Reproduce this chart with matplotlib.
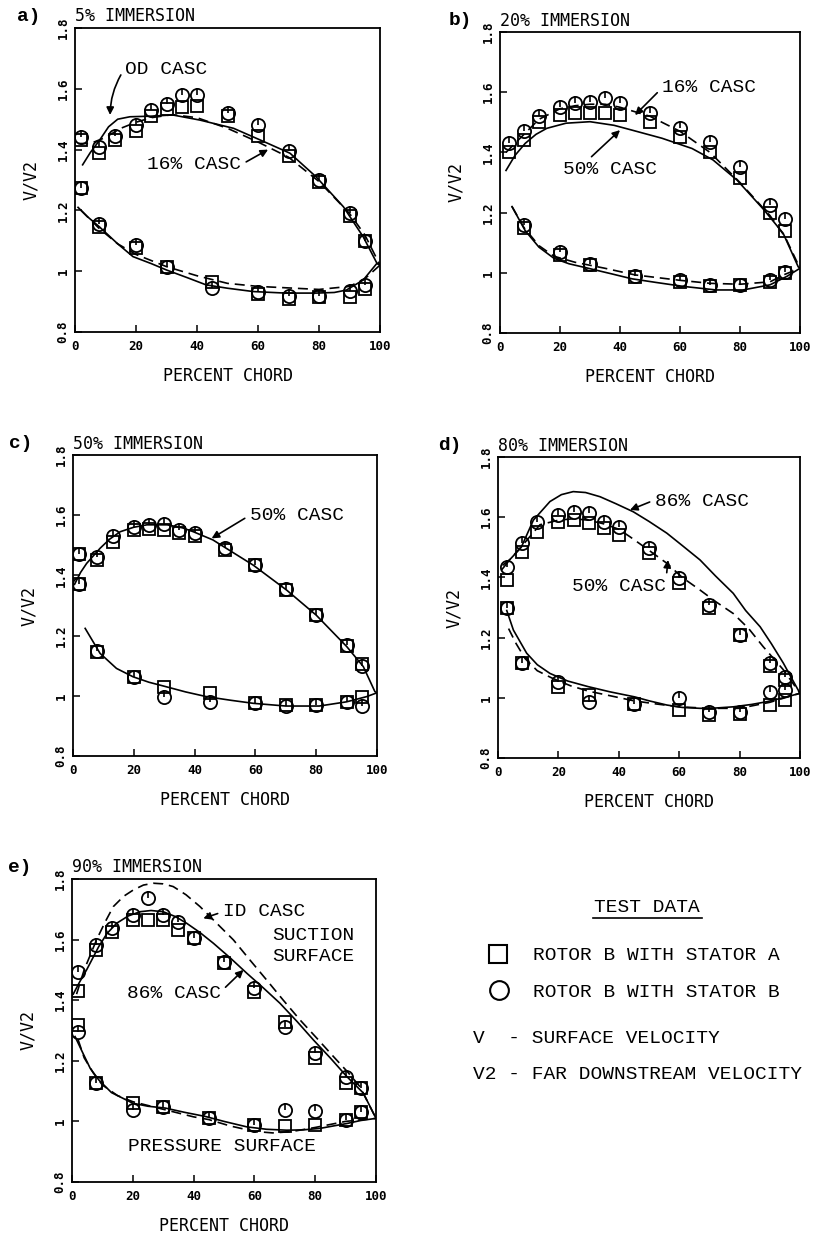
import matplotlib
matplotlib.use("Agg")
import matplotlib.pyplot as plt
from matplotlib.path import Path

W, H = 813, 1237
MONO = "Liberation Mono"
PLOT = "DejaVu Sans Mono"

# ---- panel a) 5% immersion ----
a_xs = [2, 8, 13, 20, 25, 30, 35, 40, 50, 60, 70, 80, 90, 95]
a_sq_s = [1.43, 1.39, 1.43, 1.46, 1.51, 1.535, 1.54, 1.545, 1.51, 1.445, 1.38, 1.295, 1.18, 1.10]
a_ci_s = [1.44, 1.41, 1.445, 1.48, 1.53, 1.55, 1.58, 1.58, 1.52, 1.48, 1.395, 1.30, 1.19, 1.10]
a_xp = [2, 8, 20, 30, 45, 60, 70, 80, 90, 95]
a_sq_p = [1.275, 1.145, 1.075, 1.015, 0.965, 0.925, 0.91, 0.915, 0.915, 0.94]
a_ci_p = [1.275, 1.155, 1.085, 1.015, 0.945, 0.93, 0.92, 0.92, 0.935, 0.955]
a_solid_s_x = [2.5, 5, 8, 11, 14, 18, 25, 32, 41, 52, 62, 70.5, 79, 88, 94.5, 99, 100]
a_solid_s_y = [1.35, 1.39, 1.43, 1.475, 1.50, 1.508, 1.51, 1.514, 1.497, 1.47, 1.426, 1.388, 1.311, 1.212, 1.113, 1.026, 1.02]
a_dash_s_x = [1, 5, 10, 15, 20, 25, 32, 40, 50, 60, 65, 70, 80, 90, 95, 100]
a_dash_s_y = [1.42, 1.42, 1.44, 1.47, 1.49, 1.505, 1.515, 1.505, 1.47, 1.425, 1.40, 1.375, 1.295, 1.19, 1.12, 1.02]
a_solid_p_x = [1, 4, 8, 14, 19, 25, 30, 37, 43, 50, 58.5, 69, 79, 85, 89, 94.5, 99, 100]
a_solid_p_y = [1.21, 1.18, 1.146, 1.09, 1.048, 1.025, 1.004, 0.978, 0.955, 0.944, 0.933, 0.928, 0.928, 0.93, 0.938, 0.971, 1.026, 1.02]
a_dash_p_x = [2, 5, 8, 14, 20, 30, 40, 50, 60, 70, 80, 90, 95, 100]
a_dash_p_y = [1.20, 1.17, 1.14, 1.09, 1.055, 1.015, 0.985, 0.96, 0.95, 0.945, 0.94, 0.95, 0.975, 1.02]

# ---- panel b) 20% immersion ----
b_xs = [3, 8, 13, 20, 25, 30, 35, 40, 50, 60, 70, 80, 90, 95]
b_sq_s = [1.40, 1.44, 1.50, 1.525, 1.53, 1.53, 1.53, 1.525, 1.50, 1.45, 1.40, 1.315, 1.20, 1.14]
b_ci_s = [1.43, 1.47, 1.52, 1.55, 1.563, 1.568, 1.58, 1.563, 1.53, 1.48, 1.435, 1.35, 1.225, 1.18]
b_xp = [8, 20, 30, 45, 60, 70, 80, 90, 95]
b_sq_p = [1.15, 1.06, 1.025, 0.987, 0.97, 0.955, 0.96, 0.97, 0.998]
b_ci_p = [1.16, 1.07, 1.03, 0.99, 0.975, 0.96, 0.96, 0.975, 1.003]
b_solid_s_x = [2, 5, 8.4, 12, 15.6, 22, 30, 38, 44, 54, 64, 71, 79, 88, 94.4, 99.4, 100]
b_solid_s_y = [1.34, 1.39, 1.43, 1.46, 1.48, 1.497, 1.502, 1.49, 1.474, 1.447, 1.413, 1.375, 1.308, 1.209, 1.131, 1.02, 1.015]
b_dash_s_x = [2, 5, 8, 13, 20, 25, 30, 35, 40, 50, 60, 70, 80, 90, 95, 100]
b_dash_s_y = [1.40, 1.43, 1.46, 1.51, 1.545, 1.555, 1.56, 1.56, 1.55, 1.52, 1.47, 1.40, 1.30, 1.19, 1.12, 1.015]
b_solid_p_x = [4, 8.4, 13, 18, 23, 29, 37, 44, 52, 61, 72, 81, 90, 95.6, 100]
b_solid_p_y = [1.22, 1.14, 1.085, 1.048, 1.03, 1.016, 0.997, 0.98, 0.968, 0.955, 0.943, 0.943, 0.96, 0.988, 1.015]
b_dash_p_x = [4, 8, 13, 18, 25, 35, 45, 60, 70, 80, 90, 95, 100]
b_dash_p_y = [1.22, 1.15, 1.09, 1.055, 1.035, 1.015, 0.993, 0.975, 0.965, 0.962, 0.97, 0.995, 1.015]

# ---- panel c) 50% immersion ----
c_xs = [2, 8, 13, 20, 25, 30, 35, 40, 50, 60, 70, 80, 90, 95]
c_sq_s = [1.47, 1.45, 1.51, 1.55, 1.555, 1.55, 1.54, 1.53, 1.485, 1.435, 1.35, 1.27, 1.165, 1.105]
c_ci_s = [1.47, 1.46, 1.53, 1.56, 1.568, 1.57, 1.55, 1.54, 1.49, 1.435, 1.355, 1.27, 1.17, 1.10]
c_xp = [2, 8, 20, 30, 45, 60, 70, 80, 90, 95]
c_sq_p = [1.37, 1.145, 1.063, 1.03, 1.008, 0.975, 0.968, 0.968, 0.98, 0.997]
c_ci_p = [1.37, 1.15, 1.063, 0.997, 0.98, 0.975, 0.965, 0.968, 0.98, 0.965]
c_solid_s_x = [0.5, 2.5, 4.5, 8.9, 12, 15.5, 20, 24.3, 31, 36, 39.6, 46, 52, 59.3, 70.3, 80, 90, 95.5, 99.3, 100]
c_solid_s_y = [1.37, 1.41, 1.44, 1.49, 1.52, 1.545, 1.56, 1.568, 1.568, 1.558, 1.545, 1.518, 1.48, 1.434, 1.351, 1.268, 1.164, 1.097, 1.014, 1.01]
c_solid_p_x = [4, 8.9, 14.3, 19.8, 25, 30.7, 37, 44, 52, 59.3, 70, 81, 90, 96.5, 100]
c_solid_p_y = [1.224, 1.141, 1.091, 1.063, 1.045, 1.03, 1.013, 0.997, 0.985, 0.975, 0.966, 0.966, 0.98, 0.997, 1.01]

# ---- panel d) 80% immersion ----
d_xs = [3, 8, 13, 20, 25, 30, 35, 40, 50, 60, 70, 80, 90, 95]
d_sq_s = [1.39, 1.485, 1.55, 1.585, 1.59, 1.58, 1.563, 1.54, 1.48, 1.38, 1.297, 1.209, 1.104, 1.06]
d_ci_s = [1.435, 1.513, 1.585, 1.607, 1.618, 1.613, 1.585, 1.568, 1.497, 1.397, 1.308, 1.209, 1.115, 1.07]
d_xp = [3, 8, 20, 30, 45, 60, 70, 80, 90, 95]
d_sq_p = [1.297, 1.115, 1.036, 1.01, 0.98, 0.96, 0.943, 0.945, 0.976, 0.993]
d_ci_p = [1.297, 1.115, 1.053, 0.987, 0.98, 0.998, 0.954, 0.954, 1.02, 1.026]
d_solid_s_x = [1.2, 4, 7.7, 11.7, 17.2, 21, 24.9, 29, 33.8, 39, 44.8, 50, 55.9, 61, 66.9, 72, 77.9, 82, 86.8, 90.5, 94.5, 97.5, 100]
d_solid_s_y = [1.425, 1.46, 1.50, 1.59, 1.652, 1.675, 1.685, 1.682, 1.668, 1.645, 1.618, 1.586, 1.547, 1.506, 1.458, 1.405, 1.347, 1.29, 1.236, 1.18, 1.115, 1.06, 1.015]
d_dash_s_x = [1.5, 4, 8.4, 13.9, 20, 25, 30, 35, 40, 43.7, 50, 55.9, 61, 66.9, 72, 77.9, 83, 87.8, 94.5, 100]
d_dash_s_y = [1.44, 1.46, 1.51, 1.575, 1.59, 1.595, 1.59, 1.578, 1.56, 1.535, 1.49, 1.447, 1.40, 1.358, 1.32, 1.28, 1.23, 1.17, 1.093, 1.015]
d_solid_p_x = [2.9, 5.1, 9.5, 13, 17.2, 23, 29.9, 37, 45.3, 50, 55.9, 61, 66.9, 72, 77.9, 84, 89, 95.6, 100]
d_solid_p_y = [1.29, 1.225, 1.148, 1.11, 1.081, 1.056, 1.037, 1.02, 1.003, 0.99, 0.976, 0.968, 0.965, 0.966, 0.97, 0.978, 0.987, 1.003, 1.015]
d_dash_p_x = [3.5, 6, 9, 13, 18, 24, 30, 38, 45, 52, 60, 70, 80, 90, 95, 100]
d_dash_p_y = [1.23, 1.18, 1.13, 1.09, 1.065, 1.04, 1.022, 1.005, 0.99, 0.98, 0.97, 0.965, 0.965, 0.985, 1.0, 1.015]

# ---- panel e) 90% immersion ----
e_xs = [2, 8, 13, 20, 25, 30, 35, 40, 50, 60, 70, 80, 90, 95]
e_sq_s = [1.43, 1.566, 1.626, 1.665, 1.665, 1.665, 1.632, 1.604, 1.522, 1.428, 1.329, 1.208, 1.126, 1.109]
e_ci_s = [1.494, 1.582, 1.637, 1.681, 1.736, 1.681, 1.659, 1.604, 1.525, 1.439, 1.313, 1.225, 1.148, 1.11]
e_xp = [2, 8, 20, 30, 45, 60, 70, 80, 90, 95]
e_sq_p = [1.318, 1.126, 1.06, 1.049, 1.01, 0.988, 0.985, 0.988, 1.004, 1.032]
e_ci_p = [1.296, 1.126, 1.038, 1.049, 1.01, 0.988, 1.038, 1.033, 1.004, 1.03]
e_solid_s_x = [0.4, 2.5, 4.8, 8.8, 11.5, 14.7, 18.5, 22.4, 26, 30, 34, 37.7, 42, 46.5, 52, 57.5, 63, 68.4, 74, 79.4, 85, 90.4, 95.8, 99.7, 100]
e_solid_s_y = [1.42, 1.46, 1.50, 1.577, 1.62, 1.654, 1.678, 1.692, 1.696, 1.692, 1.676, 1.654, 1.624, 1.588, 1.54, 1.489, 1.44, 1.39, 1.33, 1.269, 1.209, 1.148, 1.094, 1.016, 1.01]
e_dash_s_x = [1.5, 4, 8.1, 11, 13.6, 17, 20.2, 23.5, 26.8, 30, 33.3, 37.5, 42.1, 47.5, 53.1, 58.5, 64, 69.5, 75, 80.5, 86, 90.5, 94.7, 100]
e_dash_s_y = [1.42, 1.50, 1.60, 1.66, 1.709, 1.743, 1.764, 1.78, 1.786, 1.784, 1.775, 1.748, 1.709, 1.655, 1.599, 1.533, 1.467, 1.40, 1.335, 1.275, 1.214, 1.165, 1.115, 1.01]
e_solid_p_x = [1, 3.6, 6, 8.8, 13, 20, 25, 30.7, 37, 44, 50, 57.5, 64, 70.6, 76, 81.6, 86, 90.4, 95, 100]
e_solid_p_y = [1.28, 1.225, 1.175, 1.137, 1.095, 1.06, 1.05, 1.044, 1.03, 1.016, 1.0, 0.982, 0.974, 0.971, 0.972, 0.977, 0.985, 0.993, 1.003, 1.01]
e_dash_p_x = [2, 4, 7, 10, 15, 20, 30, 40, 45, 52, 60, 66, 72, 80, 90, 95, 100]
e_dash_p_y = [1.27, 1.21, 1.16, 1.12, 1.085, 1.065, 1.04, 1.015, 1.006, 0.985, 0.967, 0.962, 0.966, 0.98, 1.0, 1.005, 1.01]

x_ticks = [0, 20, 40, 60, 80, 100]
y_ticks = [0.8, 1.0, 1.2, 1.4, 1.6, 1.8]
y_tick_labels = ["0.8", "1", "1.2", "1.4", "1.6", "1.8"]

fig = plt.figure(figsize=(W / 100, H / 100), dpi=100)

def add_ax(l, t, r, b):
    return fig.add_axes([l / W, 1 - b / H, (r - l) / W, (b - t) / H])

# little tick from centre to top, as the plotter drew inside each symbol
inner = Path([(0, 0), (0, 1)], [Path.MOVETO, Path.LINETO])

def panel(ax, letter, letter_px, title, xs, sq_s, ci_s, xp, sq_p, ci_p, solid, dashed):
    for x, y in solid:
        ax.plot(x, y, color="k", lw=1.2)
    for x, y in dashed:
        ax.plot(x, y, color="k", lw=1.2, ls=(0, (6, 3.5)))
    for x, sq, ci in [(xs, sq_s, ci_s), (xp, sq_p, ci_p)]:
        ax.plot(x, sq, ls="none", marker="s", ms=9, mfc="none", mec="k", mew=1.3)
        ax.plot(x, ci, ls="none", marker="o", ms=9.5, mfc="none", mec="k", mew=1.3)
        ax.plot(x, ci, ls="none", marker=inner, ms=9.5, mec="k", mew=1.2)
    ax.set_xlim(0, 100); ax.set_ylim(0.8, 1.8)
    ax.set_xticks(x_ticks, [str(t) for t in x_ticks], fontfamily=PLOT, fontweight="bold", fontsize=9)
    ax.set_yticks(y_ticks, y_tick_labels, fontfamily=PLOT, fontweight="bold", fontsize=9,
                  rotation=90, va="center")
    ax.tick_params(direction="in", length=5, width=1.1, top=False, right=False)
    ax.tick_params(axis="x", pad=6); ax.tick_params(axis="y", pad=4)
    for s in ax.spines.values():
        s.set_linewidth(1.3)
    w = ax.get_position().width * W
    ax.text(0.5, -0.145, "PERCENT CHORD", transform=ax.transAxes, ha="center", va="center",
            fontfamily=PLOT, fontsize=12)
    ax.text(-0.145, 0.5, "V/V2", transform=ax.transAxes, ha="center", va="center",
            rotation=90, fontfamily=PLOT, fontsize=12)
    ax.text(0.0, 1.038, title, transform=ax.transAxes, ha="left", va="center",
            fontfamily=PLOT, fontsize=12)
    ax.text(-letter_px / w, 1.038, letter, transform=ax.transAxes, ha="right", va="center",
            fontfamily=MONO, fontweight="bold", fontsize=14)

def note(ax, s, xy, xytext, relpos, rad=0.0):
    ax.annotate(s, xy=xy, xytext=xytext, ha="left", va="center", fontfamily=MONO, fontsize=14,
                arrowprops=dict(arrowstyle="-|>", color="k", lw=1.2, mutation_scale=11,
                                relpos=relpos, shrinkA=2, shrinkB=0,
                                connectionstyle=f"arc3,rad={rad}"))

ax = add_ax(75, 28, 380, 332)
panel(ax, "a)", 35, "5% IMMERSION", a_xs, a_sq_s, a_ci_s, a_xp, a_sq_p, a_ci_p,
      [(a_solid_s_x, a_solid_s_y), (a_solid_p_x, a_solid_p_y)],
      [(a_dash_s_x, a_dash_s_y), (a_dash_p_x, a_dash_p_y)])
note(ax, "OD CASC", (11.5, 1.514), (16.4, 1.662), (0, 0.6), rad=0.15)
note(ax, "16% CASC", (63.3, 1.40), (23.6, 1.35), (1, 0.5))

ax = add_ax(500, 32, 800, 333)
panel(ax, "b)", 28, "20% IMMERSION", b_xs, b_sq_s, b_ci_s, b_xp, b_sq_p, b_ci_p,
      [(b_solid_s_x, b_solid_s_y), (b_solid_p_x, b_solid_p_y)],
      [(b_dash_s_x, b_dash_s_y), (b_dash_p_x, b_dash_p_y)])
note(ax, "16% CASC", (45, 1.524), (54, 1.614), (0, 0.5))
note(ax, "50% CASC", (40, 1.474), (21, 1.342), (0.25, 1))

ax = add_ax(73, 455, 377, 756)
panel(ax, "c)", 41, "50% IMMERSION", c_xs, c_sq_s, c_ci_s, c_xp, c_sq_p, c_ci_p,
      [(c_solid_s_x, c_solid_s_y), (c_solid_p_x, c_solid_p_y)], [])
note(ax, "50% CASC", (45.6, 1.523), (58.2, 1.60), (0, 0.5))

ax = add_ax(498, 457, 800, 758)
panel(ax, "d)", 36, "80% IMMERSION", d_xs, d_sq_s, d_ci_s, d_xp, d_sq_p, d_ci_p,
      [(d_solid_s_x, d_solid_s_y), (d_solid_p_x, d_solid_p_y)],
      [(d_dash_s_x, d_dash_s_y), (d_dash_p_x, d_dash_p_y)])
note(ax, "86% CASC", (43.7, 1.624), (52, 1.652), (0, 0.6))
note(ax, "50% CASC", (56.3, 1.458), (24.5, 1.369), (1, 0.9))

ax = add_ax(72, 879, 376, 1182)
panel(ax, "e)", 40, "90% IMMERSION", e_xs, e_sq_s, e_ci_s, e_xp, e_sq_p, e_ci_p,
      [(e_solid_s_x, e_solid_s_y), (e_solid_p_x, e_solid_p_y)],
      [(e_dash_s_x, e_dash_s_y), (e_dash_p_x, e_dash_p_y)])
note(ax, "ID CASC", (43.2, 1.670), (49.7, 1.692), (0, 0.5))
note(ax, "86% CASC", (56.4, 1.50), (18, 1.422), (1, 0.6))
ax.text(65.8, 1.615, "SUCTION", ha="left", va="center", fontfamily=MONO, fontsize=14)
ax.text(65.8, 1.544, "SURFACE", ha="left", va="center", fontfamily=MONO, fontsize=14)
ax.text(18.4, 0.917, "PRESSURE SURFACE", ha="left", va="center", fontfamily=MONO, fontsize=14)

# key, laid out in pixel units
lg = add_ax(440, 880, 813, 1130)
lg.set_xlim(440, 813); lg.set_ylim(1130, 880); lg.axis("off")
lg.text(647, 908, "TEST DATA", ha="center", va="center", fontfamily=MONO, fontsize=14)
lg.plot([593, 702], [918, 918], color="k", lw=1.2)
lg.plot([498], [954], marker="s", ms=12.5, mfc="none", mec="k", mew=1.5)
lg.plot([499], [990], marker="o", ms=13.5, mfc="none", mec="k", mew=1.5)
lg.text(533, 956, "ROTOR B WITH STATOR A", ha="left", va="center", fontfamily=MONO, fontsize=14)
lg.text(533, 993, "ROTOR B WITH STATOR B", ha="left", va="center", fontfamily=MONO, fontsize=14)
lg.text(473, 1039, "V  - SURFACE VELOCITY", ha="left", va="center", fontfamily=MONO, fontsize=14)
lg.text(473, 1075, "V2 - FAR DOWNSTREAM VELOCITY", ha="left", va="center", fontfamily=MONO, fontsize=14)

fig.savefig("out.png", dpi=100)
